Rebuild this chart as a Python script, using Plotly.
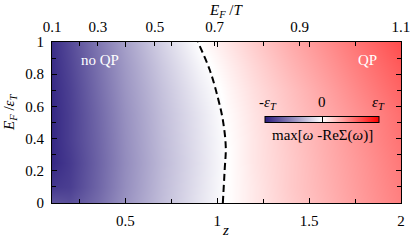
import plotly.graph_objects as go

# z grid (bottom axis) and E_F/eps_T grid (left axis)
z_vals = [0.1, 0.2, 0.35, 0.5, 0.7, 0.9, 1.05, 1.2, 1.4, 1.6, 1.8, 2.0]
ef_vals = [0.0, 0.1, 0.25, 0.4, 0.55, 0.7, 0.85, 1.0]

# max[omega - Re Sigma(omega)] in units of eps_T
row_000 = [-0.75, -0.78, -0.65, -0.48, -0.29, -0.12, 0.00, 0.09, 0.20, 0.30, 0.40, 0.50]
row_010 = [-0.88, -0.85, -0.68, -0.50, -0.30, -0.13, 0.00, 0.09, 0.21, 0.31, 0.41, 0.51]
row_025 = [-0.95, -0.87, -0.69, -0.51, -0.31, -0.14, -0.005, 0.10, 0.21, 0.32, 0.42, 0.53]
row_040 = [-0.95, -0.85, -0.68, -0.50, -0.30, -0.13, 0.00, 0.10, 0.22, 0.33, 0.44, 0.55]
row_055 = [-0.95, -0.85, -0.67, -0.49, -0.29, -0.12, 0.01, 0.11, 0.23, 0.34, 0.45, 0.57]
row_070 = [-0.94, -0.84, -0.65, -0.47, -0.27, -0.09, 0.03, 0.13, 0.25, 0.37, 0.49, 0.61]
row_085 = [-0.93, -0.82, -0.63, -0.45, -0.24, -0.05, 0.06, 0.16, 0.29, 0.41, 0.53, 0.65]
row_100 = [-0.92, -0.80, -0.60, -0.42, -0.20, 0.00, 0.10, 0.20, 0.33, 0.45, 0.57, 0.70]
field = [row_000, row_010, row_025, row_040, row_055, row_070, row_085, row_100]

# QP boundary (dashed line)
boundary_z = [1.03, 1.04, 1.046, 1.03, 1.002, 0.959, 0.894]
boundary_ef = [0.0, 0.205, 0.348, 0.516, 0.658, 0.826, 1.0]

# top axis E_F/T labels and their z positions
top_labels = ["0.1", "0.3", "0.5", "0.7", "0.9", "1.1"]
top_pos = [0.1, 0.35, 0.66, 0.986, 1.448, 1.999]

FONT = "Liberation Serif"
FS = 15

fig = go.Figure()
fig.add_trace(go.Heatmap(
    x=z_vals, y=ef_vals, z=field, zmin=-1, zmax=1, zsmooth="best",
    colorscale=[[0, "#2b1d7e"], [0.5, "#ffffff"], [1, "#ff0000"]],
    colorbar=dict(
        orientation="h", x=0.774, xanchor="center", y=0.5, yanchor="middle",
        len=0.327, lenmode="fraction", thickness=6, xpad=0, ypad=0,
        outlinecolor="black", outlinewidth=1, ticks="inside", tickvals=[0],
        ticklen=6, tickcolor="black", showticklabels=False,
    ),
    hoverinfo="skip",
))
fig.add_trace(go.Scatter(
    x=boundary_z, y=boundary_ef, mode="lines",
    line=dict(color="black", width=2, dash="7px,4px", shape="spline"),
    showlegend=False, hoverinfo="skip",
))
fig.add_trace(go.Scatter(
    x=top_pos, y=[0.5] * len(top_pos), xaxis="x2", mode="markers",
    marker=dict(opacity=0), showlegend=False, hoverinfo="skip",
))

axis_common = dict(showline=True, linecolor="black", linewidth=1,
                   ticks="inside", ticklen=5, tickcolor="black",
                   showgrid=False, zeroline=False, automargin=False,
                   tickfont=dict(family=FONT, size=FS, color="black"))

fig.update_layout(
    width=415, height=247,
    margin=dict(l=52, r=14, t=42, b=44),
    paper_bgcolor="white", plot_bgcolor="white",
    font=dict(family=FONT, size=FS, color="black"),
    showlegend=False,
    xaxis=dict(range=[0.1, 2.0], tickvals=[0.5, 1, 1.5, 2],
               ticktext=["0.5", "1", "1.5", "2"], mirror="ticks",
               ticklabelstandoff=4,
               minor=dict(tickvals=[0.25, 0.75, 1.25, 1.75], ticks="inside",
                          ticklen=4, tickcolor="black"),
               **axis_common),
    xaxis2=dict(range=[0.1, 2.0], overlaying="x", side="top",
                tickvals=top_pos, ticktext=top_labels, showline=False,
                ticks="inside", ticklen=4, tickcolor="black",
                showgrid=False, zeroline=False, automargin=False,
                ticklabelstandoff=6,
                tickfont=dict(family=FONT, size=FS, color="black")),
    yaxis=dict(range=[0, 1], tickvals=[0, 0.2, 0.4, 0.6, 0.8, 1],
               ticktext=["0", "0.2", "0.4", "0.6", "0.8", "1"], mirror="ticks",
               ticklabelstandoff=4,
               minor=dict(tickvals=[0.1, 0.3, 0.5, 0.7, 0.9], ticks="inside",
                          ticklen=4, tickcolor="black"),
               **axis_common),
)

ann_font = dict(family=FONT, size=FS, color="black")


def note(x, y, text, font=ann_font, xref="paper", yref="paper", **kw):
    fig.add_annotation(xref=xref, yref=yref, x=x, y=y, text=text, showarrow=False,
                       xanchor="center", yanchor="middle", font=font, **kw)


# axis titles
note(0.497, -0.165, "<i>z</i>")
note(0.5, 1.19, "<i>E<sub>F</sub></i> /<i>T</i>")
note(-0.12, 0.56, "<i>E<sub>F</sub></i> /<i>ε<sub>T</sub></i>", textangle=-90)

# region labels
white = dict(family=FONT, size=FS, color="white")
note(0.36, 0.89, "no QP", font=white, xref="x", yref="y")
note(1.82, 0.89, "QP", font=white, xref="x", yref="y")

# colorbar labels
note(0.618, 0.62, "-<i>ε<sub>T</sub></i>")
note(0.774, 0.625, "0")
note(0.935, 0.62, "<i>ε<sub>T</sub></i>")
note(0.774, 0.42, "max[<i>ω</i> -ReΣ(<i>ω</i>)]")

fig.write_html("out.html", config={"displayModeBar": False},
               post_script="document.body.style.margin='0px';")
